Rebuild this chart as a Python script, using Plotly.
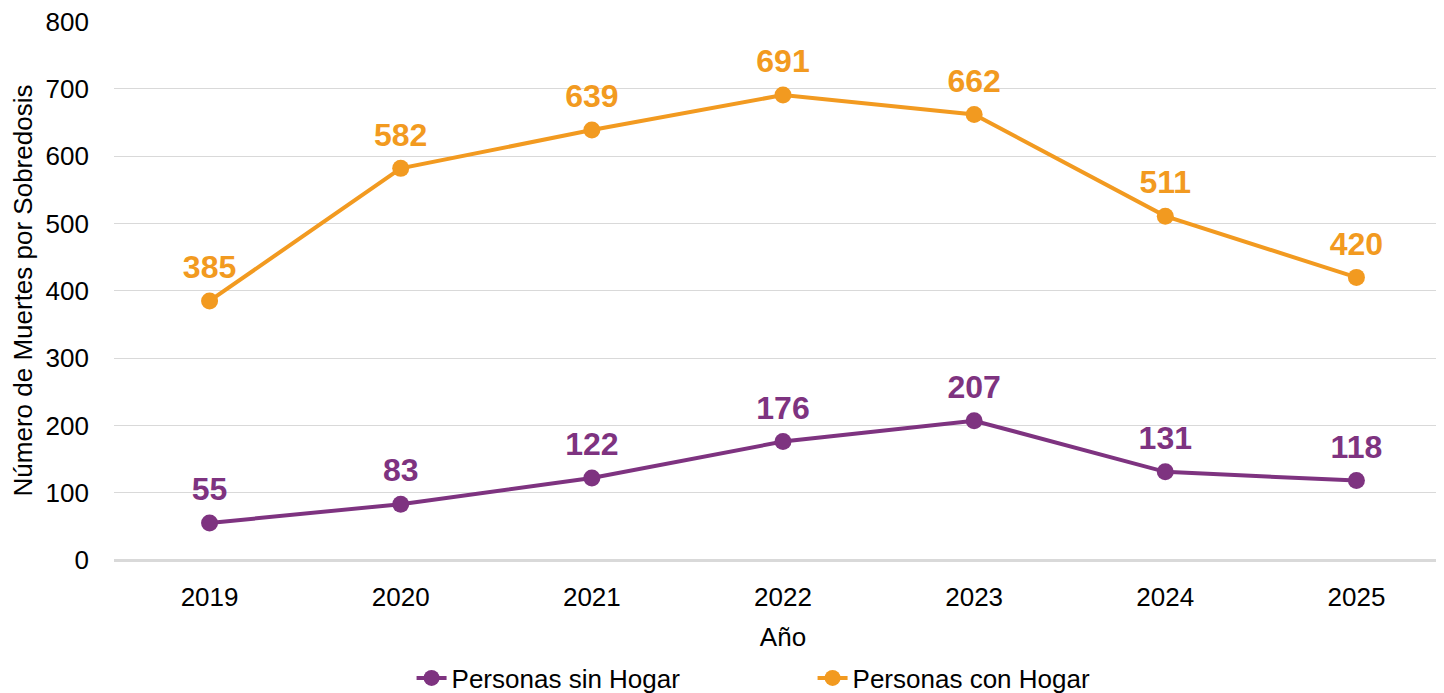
import plotly.graph_objects as go

years = ["2019", "2020", "2021", "2022", "2023", "2024", "2025"]
sin_hogar = [55, 83, 122, 176, 207, 131, 118]
con_hogar = [385, 582, 639, 691, 662, 511, 420]

purple = "#7E3380"
orange = "#F29A20"
FONT = "Liberation Sans, Arial"

fig = go.Figure()
series = [("Personas sin Hogar", sin_hogar, purple),
          ("Personas con Hogar", con_hogar, orange)]
for name, vals, col in series:
    fig.add_trace(go.Scatter(
        x=years, y=vals, name=name, mode="lines+markers",
        line=dict(color=col, width=4), marker=dict(size=17, color=col),
    ))
for name, vals, col in series:
    fig.add_trace(go.Scatter(
        x=years, y=vals, mode="markers+text", showlegend=False, hoverinfo="skip",
        marker=dict(size=22, color="rgba(0,0,0,0)"),
        text=[str(v) for v in vals], textposition="top center",
        textfont=dict(family=FONT, size=32, color=col, weight="bold"),
    ))

fig.update_layout(
    width=1444, height=693,
    margin=dict(l=106, r=0, t=13, b=141, autoexpand=False),
    plot_bgcolor="white", paper_bgcolor="white",
    font=dict(family=FONT, color="#000000", size=26),
    showlegend=True,
    legend=dict(orientation="h", x=0.2224, xanchor="left", y=-0.219, yanchor="middle",
                font=dict(size=26), entrywidth=356, entrywidthmode="pixels",
                tracegroupgap=0),
    xaxis=dict(
        type="category", range=[-0.5, 6.5], automargin=False,
        showgrid=False, showline=False, zeroline=False,
        ticks="", tickfont=dict(size=26), ticklabelstandoff=19,
        title=dict(text="Año", font=dict(size=26), standoff=16),
    ),
    yaxis=dict(
        range=[0, 801], tickvals=[0, 100, 200, 300, 400, 500, 600, 700, 800],
        automargin=False, ticklabeloverflow="allow",
        showgrid=True, gridcolor="#D9D9D9", gridwidth=1,
        zeroline=True, zerolinecolor="#D9D9D9", zerolinewidth=3,
        showline=False, ticks="", tickfont=dict(size=26), ticklabelstandoff=24,
        title=dict(text="Número de Muertes por Sobredosis", font=dict(size=26), standoff=14),
    ),
)

fig.write_html("out.html")
